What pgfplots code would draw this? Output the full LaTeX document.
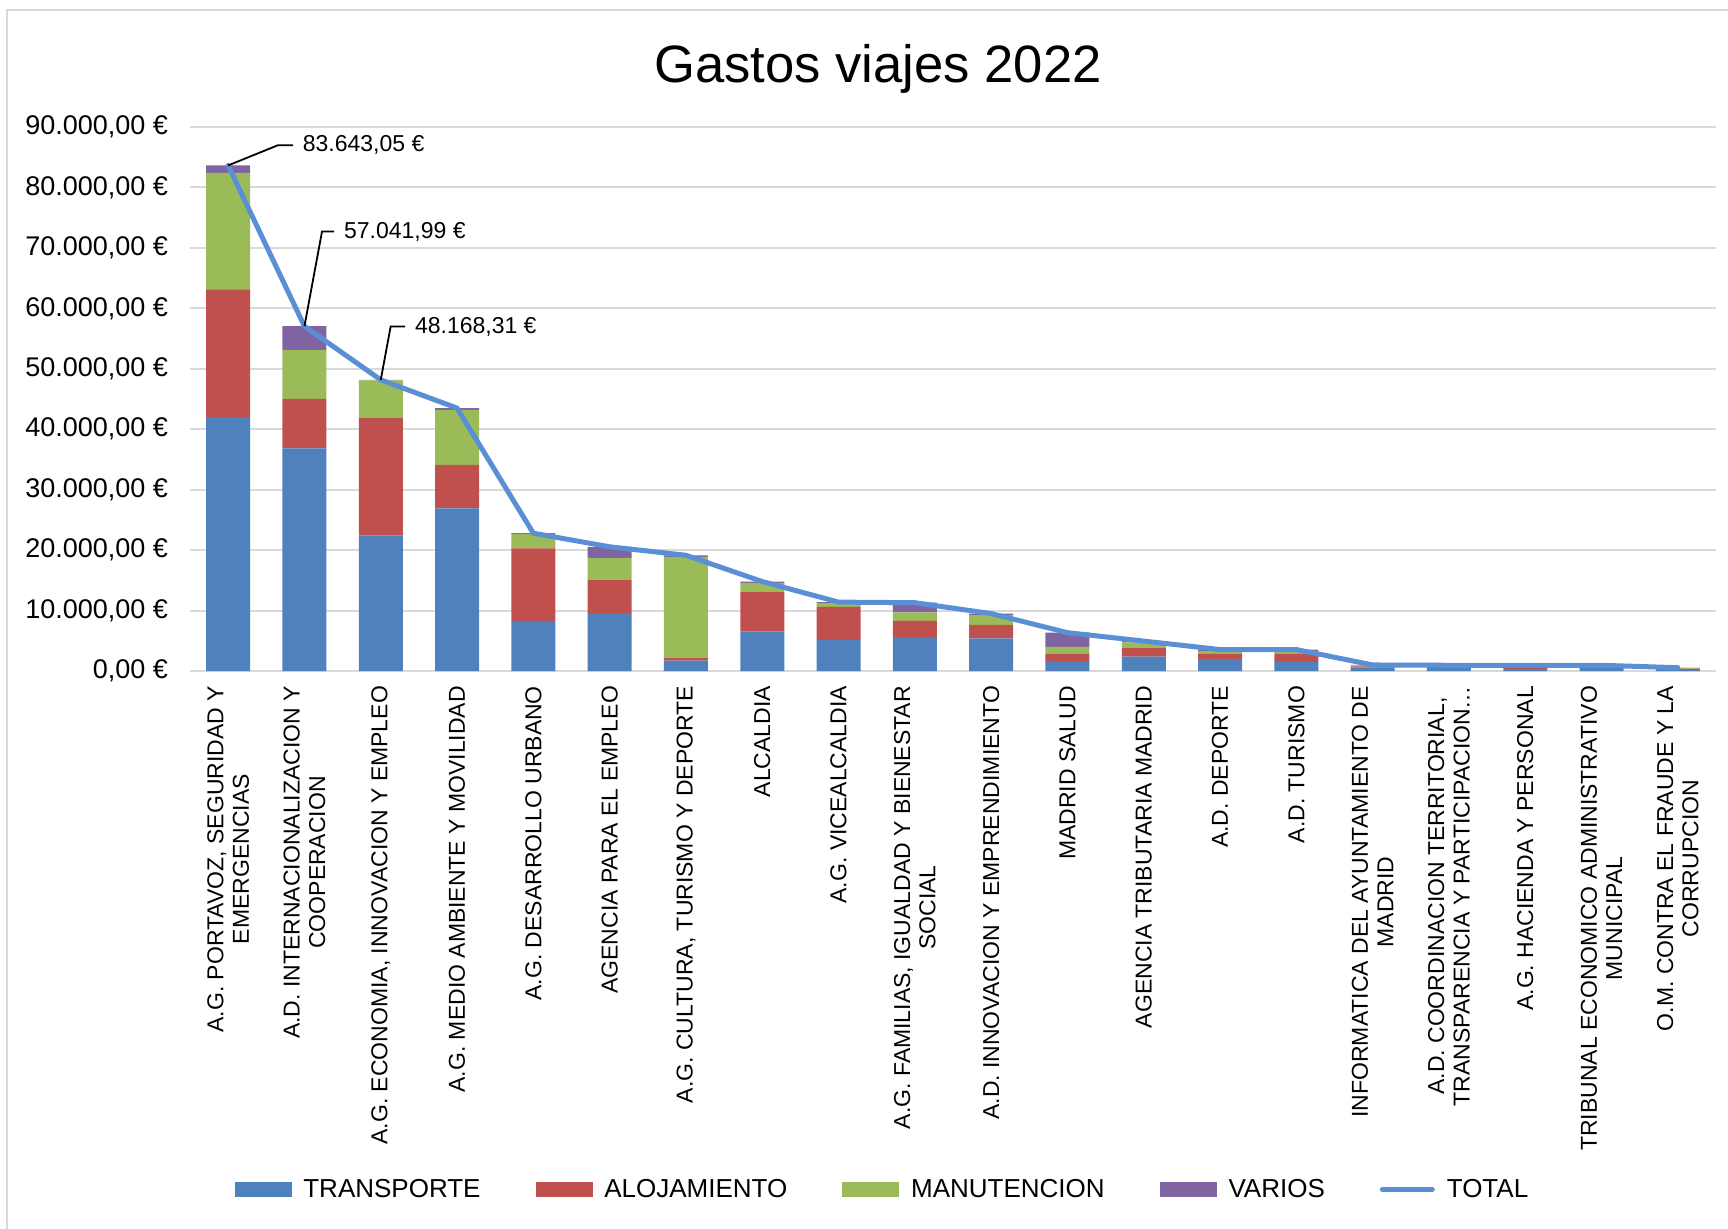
\documentclass[border=0pt]{standalone}
\usepackage{fontspec}
\setmainfont{Liberation Sans}
\usepackage{pgfplots}
\pgfplotsset{compat=1.18}
\definecolor{cT}{HTML}{4F81BD}
\definecolor{cA}{HTML}{C0504D}
\definecolor{cM}{HTML}{9BBB59}
\definecolor{cV}{HTML}{8064A2}
\definecolor{cTot}{HTML}{5A8FD6}
\definecolor{gridg}{HTML}{D9D9D9}
\begin{document}
\begin{tikzpicture}
\path[use as bounding box] (-95pt,-278.5pt) rectangle (769pt,335.5pt);
\draw[gridg, line width=1pt] (-91.5pt,-300pt) -- (-91.5pt,330.5pt) -- (800pt,330.5pt);
\node[font=\fontsize{26.3}{30}\selectfont] at (344pt,301pt) {Gastos viajes 2022};
\begin{axis}[
  at={(0pt,0pt)}, anchor=south west,
  scale only axis, width=763pt, height=272pt,
  ybar stacked, bar width=22pt,
  xmin=-0.5, xmax=19.5, ymin=0, ymax=90000,
  scaled y ticks=false,
  xtick={0,...,19},
  xticklabels={{A.G. PORTAVOZ, SEGURIDAD Y\\EMERGENCIAS},{A.D. INTERNACIONALIZACION Y\\COOPERACION},{A.G. ECONOMIA, INNOVACION Y EMPLEO},{A.G. MEDIO AMBIENTE Y MOVILIDAD},{A.G. DESARROLLO URBANO},{AGENCIA PARA EL EMPLEO},{A.G. CULTURA, TURISMO Y DEPORTE},{ALCALDIA},{A.G. VICEALCALDIA},{A.G. FAMILIAS, IGUALDAD Y BIENESTAR\\SOCIAL},{A.D. INNOVACION Y EMPRENDIMIENTO},{MADRID SALUD},{AGENCIA TRIBUTARIA MADRID},{A.D. DEPORTE},{A.D. TURISMO},{INFORMATICA DEL AYUNTAMIENTO DE\\MADRID},{A.D. COORDINACION TERRITORIAL,\\TRANSPARENCIA Y PARTICIPACION…},{A.G. HACIENDA Y PERSONAL},{TRIBUNAL ECONOMICO ADMINISTRATIVO\\MUNICIPAL},{O.M. CONTRA EL FRAUDE Y LA\\CORRUPCION}},
  xticklabel style={rotate=90, anchor=east, align=center, xshift=-4pt, font=\fontsize{11.5}{12.7}\selectfont},
  ytick={0,10000,20000,30000,40000,50000,60000,70000,80000,90000},
  yticklabels={{0,00 €},{10.000,00 €},{20.000,00 €},{30.000,00 €},{40.000,00 €},{50.000,00 €},{60.000,00 €},{70.000,00 €},{80.000,00 €},{90.000,00 €}},
  yticklabel style={xshift=-7.5pt, font=\fontsize{13.5}{15}\selectfont},
  ymajorgrids, grid style={draw=gridg, line width=1pt},
  axis line style={draw=none}, major tick length=0pt,
]
\addplot[fill=cT, draw=none] coordinates {(0,41900)(1,36850)(2,22450)(3,26900)(4,8300)(5,9450)(6,1700)(7,6500)(8,5100)(9,5600)(10,5400)(11,1500)(12,2400)(13,1950)(14,1500)(15,600)(16,800)(17,350)(18,800)(19,150)};
\addplot[fill=cA, draw=none] coordinates {(0,21250)(1,8180)(2,19400)(3,7200)(4,12000)(5,5650)(6,500)(7,6550)(8,5500)(9,2700)(10,2250)(11,1330)(12,1400)(13,900)(14,1350)(15,150)(16,150)(17,550)(18,100)(19,250)};
\addplot[fill=cM, draw=none] coordinates {(0,19250)(1,8110)(2,6220)(3,9100)(4,2400)(5,3600)(6,16700)(7,1550)(8,650)(9,1400)(10,1500)(11,1170)(12,950)(13,450)(14,500)(15,200)(16,0)(17,50)(18,50)(19,150)};
\addplot[fill=cV, draw=none] coordinates {(0,1243.05)(1,3901.99)(2,98.31)(3,300)(4,100)(5,1850)(6,250)(7,200)(8,150)(9,1600)(10,350)(11,2350)(12,200)(13,250)(14,200)(15,50)(16,0)(17,0)(18,0)(19,0)};
\end{axis}
\begin{axis}[
  at={(0pt,0pt)}, anchor=south west,
  scale only axis, width=763pt, height=272pt,
  xmin=-0.5, xmax=19.5, ymin=0, ymax=90000,
  hide axis, clip=false,
  legend columns=5,
  legend style={at={(rel axis cs:0.457,-0.953)}, anchor=center, draw=none, fill=none,
    font=\fontsize{13}{15}\selectfont,
    /tikz/every even column/.append style={column sep=21.5pt},
    nodes={inner xsep=6pt}},
]
\addlegendimage{legend image code/.code={\fill[cT] (0pt,-3.3pt) rectangle (28pt,3.3pt);}}
\addlegendentry{TRANSPORTE}
\addlegendimage{legend image code/.code={\fill[cA] (0pt,-3.3pt) rectangle (28pt,3.3pt);}}
\addlegendentry{ALOJAMIENTO}
\addlegendimage{legend image code/.code={\fill[cM] (0pt,-3.3pt) rectangle (28pt,3.3pt);}}
\addlegendentry{MANUTENCION}
\addlegendimage{legend image code/.code={\fill[cV] (0pt,-3.3pt) rectangle (28pt,3.3pt);}}
\addlegendentry{VARIOS}
\addplot[color=cTot, line width=2.5pt, line join=round, line cap=round, mark=none,
  legend image code/.code={\draw[cTot, line width=2.5pt, line cap=round] (1.5pt,0pt) -- (26.5pt,0pt);}]
  coordinates {(0,83643.05)(1,57041.99)(2,48168.31)(3,43500)(4,22800)(5,20550)(6,19150)(7,14800)(8,11400)(9,11300)(10,9500)(11,6350)(12,4950)(13,3550)(14,3550)(15,1000)(16,950)(17,950)(18,950)(19,550)};
\addlegendentry{TOTAL}
\draw[black, line width=0.9pt] (axis cs:0,83643.05) -- (axis cs:0.655,87000) -- (axis cs:0.85,87000)
  node[anchor=west, inner sep=0pt, xshift=4.5pt, font=\fontsize{11.5}{13}\selectfont] {83.643,05 €};
\draw[black, line width=0.9pt] (axis cs:1,57041.99) -- (axis cs:1.23,72700) -- (axis cs:1.39,72700)
  node[anchor=west, inner sep=0pt, xshift=4.5pt, font=\fontsize{11.5}{13}\selectfont] {57.041,99 €};
\draw[black, line width=0.9pt] (axis cs:2,48168.31) -- (axis cs:2.13,57000) -- (axis cs:2.32,57000)
  node[anchor=west, inner sep=0pt, xshift=4.5pt, font=\fontsize{11.5}{13}\selectfont] {48.168,31 €};
\end{axis}
\end{tikzpicture}
\end{document}
